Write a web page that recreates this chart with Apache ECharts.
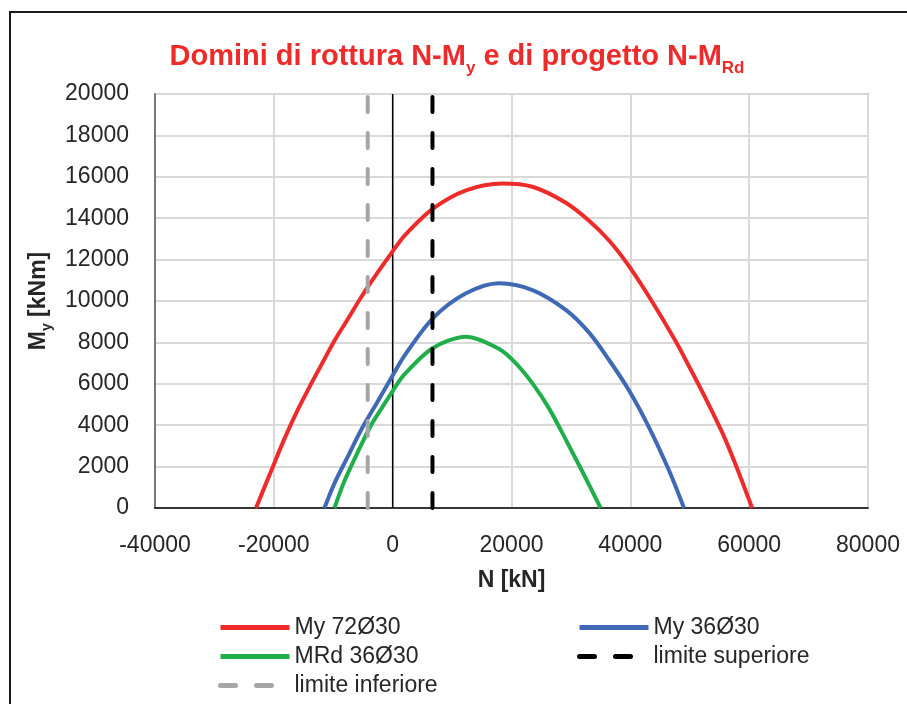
<!DOCTYPE html>
<html>
<head>
<meta charset="utf-8">
<script src="https://cdn.jsdelivr.net/npm/echarts@6/dist/echarts.min.js"></script>
<style>html,body{margin:0;padding:0;background:#fff;}#c{width:907px;height:704px;}</style>
</head>
<body>
<div id="c"></div>
<script>
// ---- data ----
const xTicks = [-40000, -20000, 0, 20000, 40000, 60000, 80000];
const yTicks = [0, 2000, 4000, 6000, 8000, 10000, 12000, 14000, 16000, 18000, 20000];

const seriesNames = ['My 72Ø30', 'My 36Ø30', 'MRd 36Ø30', 'limite superiore', 'limite inferiore'];

const my72N  = [-23000, -20440, -18200, -15960, -13720, -12030, -9800, -7560, -5310, -2520, 0, 1970, 6720, 12340, 18500, 23530, 29140, 33060, 36420, 39780, 43700, 47630, 49870, 52670, 55460, 57710, 60500];
const my72M  = [0, 1800, 3350, 4750, 6000, 6900, 8080, 9120, 10180, 11380, 12400, 13150, 14450, 15350, 15680, 15520, 14750, 13880, 12920, 11680, 9950, 8050, 6850, 5300, 3650, 2100, 0];

const my36N  = [-11480, -9800, -7560, -5310, -2520, 0, 1970, 6720, 12340, 17930, 23530, 29140, 33060, 36420, 39780, 43140, 46500, 49030];
const my36M  = [0, 1190, 2480, 3770, 5150, 6400, 7350, 9150, 10370, 10860, 10530, 9570, 8470, 7150, 5680, 3900, 1820, 0];

const mrd36N = [-9800, -8120, -5880, -3640, -1950, 0, 1970, 6720, 12340, 17930, 20740, 23530, 26340, 29140, 31940, 35000];
const mrd36M = [0, 1300, 2700, 4000, 4780, 5650, 6450, 7720, 8270, 7680, 6990, 6020, 4800, 3300, 1750, 0];

const limSupN = [6700, 6700];
const limInfN = [-4200, -4200];
const limM    = [0, 20000];
const zeroN   = [0, 0];

const pairs = (xs, ys) => xs.map((x, i) => [x, ys[i]]);

const FONT = 'Liberation Sans';
const RED = '#ee2b2b';

const chart = echarts.init(document.getElementById('c'), null, {renderer: 'canvas'});

function leg(name, left, top) {
  return {
    data: [name], left: left, top: top, orient: 'horizontal',
    itemWidth: 69, itemHeight: 14, itemGap: 0,
    textStyle: {fontFamily: FONT, fontSize: 23, color: '#262626'},
    lineStyle: {width: 5},
    itemStyle: {opacity: 0},
    selectedMode: false
  };
}

const curveStyle = (c) => ({color: c, width: 4});

chart.setOption({
  animation: false,
  backgroundColor: '#fff',
  graphic: [{
    type: 'rect', silent: true, z: 100,
    shape: {x: 10, y: 12, width: 1000, height: 1000},
    style: {fill: 'none', stroke: '#1a1a1a', lineWidth: 2}
  }],
  title: {
    text: '{a|Domini di rottura N-M}{s|y}{a| e di progetto N-M}{s|Rd}',
    left: 452, textAlign: 'center', top: 38,
    textStyle: {
      rich: {
        a: {fontFamily: FONT, fontSize: 29, fontWeight: 'bold', color: RED, lineHeight: 34, verticalAlign: 'bottom', padding: [0, 0, 6, 0]},
        s: {fontFamily: FONT, fontSize: 17, fontWeight: 'bold', color: RED, lineHeight: 34, verticalAlign: 'bottom', padding: [0, 0, 0, 0]}
      }
    }
  },
  legend: [
    leg(seriesNames[0], 213, 611),
    leg(seriesNames[1], 572, 611),
    leg(seriesNames[2], 213, 640),
    leg(seriesNames[3], 572, 640),
    leg(seriesNames[4], 213, 669)
  ],
  grid: {left: 155, right: 39, top: 94, bottom: 196, show: true, borderColor: '#595959', borderWidth: 1.5, containLabel: false},
  xAxis: {
    type: 'value', min: xTicks[0], max: xTicks[xTicks.length - 1], interval: 20000,
    name: 'N [kN]', nameLocation: 'middle', nameGap: 61,
    nameTextStyle: {fontFamily: FONT, fontSize: 23, fontWeight: 'bold', color: '#262626'},
    axisLine: {show: true, onZero: false, lineStyle: {color: '#000', width: 1.5}},
    axisTick: {show: false},
    axisLabel: {fontFamily: FONT, fontSize: 23, color: '#262626', margin: 26, formatter: v => String(v)},
    splitLine: {show: true, lineStyle: {color: '#d9d9d9', width: 2}}
  },
  yAxis: {
    type: 'value', min: yTicks[0], max: yTicks[yTicks.length - 1], interval: 2000,
    name: '{b|M}{s|y}{b| [kNm]}', nameLocation: 'middle', nameGap: 98, nameRotate: 90,
    nameTextStyle: {
      rich: {
        b: {fontFamily: FONT, fontSize: 23, fontWeight: 'bold', color: '#262626', lineHeight: 28, verticalAlign: 'bottom', padding: [0, 0, 4, 0]},
        s: {fontFamily: FONT, fontSize: 14, fontWeight: 'bold', color: '#262626', lineHeight: 28, verticalAlign: 'bottom'}
      }
    },
    axisLine: {show: true, onZero: false, lineStyle: {color: '#595959', width: 1.5}},
    axisTick: {show: false},
    axisLabel: {fontFamily: FONT, fontSize: 23, color: '#262626', margin: 26, formatter: v => String(v)},
    splitLine: {show: true, lineStyle: {color: '#d9d9d9', width: 2}}
  },
  series: [
    {name: 'zero', type: 'line', data: pairs(zeroN, limM), symbol: 'none', z: 1,
     lineStyle: {color: '#000', width: 1.5}, silent: true},
    {name: seriesNames[0], type: 'line', data: pairs(my72N, my72M), symbol: 'none', showSymbol: false, smooth: 0.3, z: 2,
     color: RED, lineStyle: curveStyle(RED)},
    {name: seriesNames[1], type: 'line', data: pairs(my36N, my36M), symbol: 'none', showSymbol: false, smooth: 0.3, z: 2,
     color: '#3f68b5', lineStyle: curveStyle('#3f68b5')},
    {name: seriesNames[2], type: 'line', data: pairs(mrd36N, mrd36M), symbol: 'none', showSymbol: false, smooth: 0.3, z: 2,
     color: '#1fae4a', lineStyle: curveStyle('#1fae4a')},
    {name: seriesNames[3], type: 'line', data: pairs(limSupN, limM), symbol: 'none', showSymbol: false, z: 3,
     color: '#000', lineStyle: {color: '#000', width: 4, type: [15, 21], cap: 'round'}},
    {name: seriesNames[4], type: 'line', data: pairs(limInfN, limM), symbol: 'none', showSymbol: false, z: 3,
     color: '#a6a6a6', lineStyle: {color: '#a6a6a6', width: 4, type: [15, 21], cap: 'round'}}
  ]
});
</script>
</body>
</html>
